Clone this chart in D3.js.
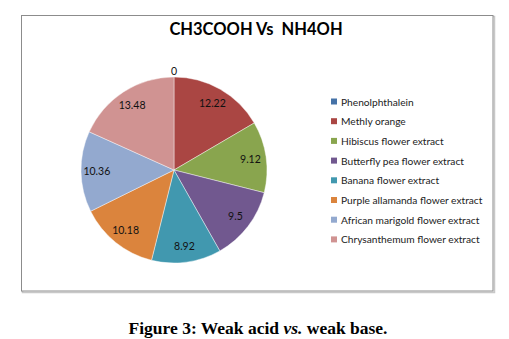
<!DOCTYPE html>
<html>
<head>
<meta charset="utf-8">
<script src="https://cdn.jsdelivr.net/npm/d3@7/dist/d3.min.js"></script>
<style>
html,body{margin:0;padding:0;background:#fff;}
svg{display:block;}
</style>
</head>
<body>
<script>
const categories = ["Phenolphthalein","Methly orange","Hibiscus flower extract","Butterfly pea flower extract","Banana flower extract","Purple allamanda flower extract","African marigold flower extract","Chrysanthemum flower extract"];
const values = [0, 12.22, 9.12, 9.5, 8.92, 10.18, 10.36, 13.48];
const labels = ["0","12.22","9.12","9.5","8.92","10.18","10.36","13.48"];
const colors = ["#4572A7","#AA4643","#89A54E","#71588F","#4198AF","#DB843D","#93A9CF","#D09392"];
const title = "CH3COOH Vs  NH4OH";
const caption = "Figure 3: Weak acid vs. weak base.";

const W = 509, H = 339;
const svg = d3.select("body").append("svg").attr("width", W).attr("height", H);

// frame with shadow
svg.append("rect").attr("x", 22.5).attr("y", 16.5).attr("width", 472).attr("height", 276)
  .attr("fill", "none").attr("stroke", "#c8c8c8").attr("stroke-width", 1.5);
svg.append("rect").attr("x", 21.5).attr("y", 15.5).attr("width", 471.5).attr("height", 275.5)
  .attr("fill", "#fff").attr("stroke", "#8c8c8c").attr("stroke-width", 1);

svg.append("text").attr("x", 256).attr("y", 35).attr("text-anchor", "middle")
  .style("white-space", "pre")
  .attr("font-family", "Lato, 'Open Sans', sans-serif").attr("font-weight", "bold")
  .attr("font-size", 16.5).attr("fill", "#000").text(title);

const cx = 174, cy = 170, r = 93;
const pie = d3.pie().sort(null).value(d => d.v);
const data = pie(values.map((v, i) => ({v, i})));
const arc = d3.arc().innerRadius(0).outerRadius(r);
const g = svg.append("g").attr("transform", `translate(${cx},${cy})`);
g.selectAll("path").data(data).join("path")
  .attr("d", arc).attr("fill", d => colors[d.data.i])
  .attr("stroke", "#fff").attr("stroke-opacity", 0.6).attr("stroke-width", 0.7);

const labelArc = d3.arc().innerRadius(r * 0.83).outerRadius(r * 0.83);
g.selectAll("text.lbl").data(data).join("text").attr("class", "lbl")
  .attr("transform", d => {
    if (d.data.v === 0) return `translate(0,${-r - 6})`;
    const c = labelArc.centroid(d); return `translate(${c[0]},${c[1]})`;
  })
  .attr("text-anchor", "middle").attr("dy", "0.35em")
  .attr("font-family", "Lato, 'Open Sans', sans-serif").attr("font-size", 10.5)
  .attr("fill", "#111").text((d, i) => labels[i]);

const leg = svg.append("g").attr("transform", "translate(331,102)");
categories.forEach((c, i) => {
  const row = leg.append("g").attr("transform", `translate(0,${i * 19.7})`);
  row.append("rect").attr("x", 0).attr("y", -3.5).attr("width", 6).attr("height", 6).attr("fill", colors[i]);
  row.append("text").attr("x", 10).attr("y", 0).attr("dy", "0.35em")
    .attr("font-family", "Lato, 'Open Sans', sans-serif").attr("font-size", 10.2)
    .attr("fill", "#222").text(c);
});

svg.append("text").attr("x", 258).attr("y", 334).attr("text-anchor", "middle")
  .attr("font-family", "'Liberation Serif', 'Times New Roman', serif").attr("font-weight", "bold")
  .attr("font-size", 17.5).attr("fill", "#000")
  .call(t => {
    t.append("tspan").text("Figure 3: Weak acid ");
    t.append("tspan").attr("font-style", "italic").text("vs.");
    t.append("tspan").text(" weak base.");
  });
</script>
</body>
</html>
